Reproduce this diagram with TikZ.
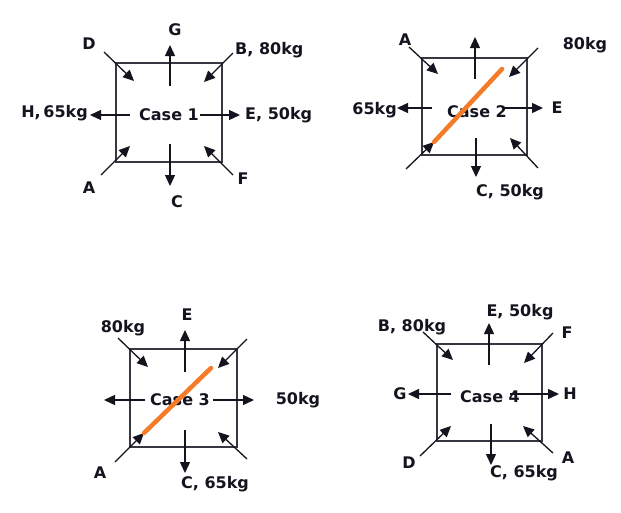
\documentclass[tikz,border=0pt]{standalone}
\usepackage{fontspec}
\setmainfont{DejaVu Sans}
\usetikzlibrary{arrows.meta}
\definecolor{ink}{HTML}{14141F}
\definecolor{strut}{HTML}{F47B27}

\begin{document}
\begin{tikzpicture}[x=1pt,y=-1pt,
    box/.style={draw=ink!85,line width=1.3pt},
    force/.style={-{Triangle[length=11pt,width=10pt]},line width=1.3pt,ink},
    tag/.style={text=ink,font=\fontsize{16}{19}\selectfont\bfseries,inner sep=0pt},
    bar/.style={strut,line width=4.5pt,line cap=round}]
    \useasboundingbox (0,0) rectangle (621,512);

    % case 1
    \begin{scope}[shift={(169,112)}]
        \coordinate (a1up) at (1,-26);   \coordinate (b1up) at (1,-67);
        \coordinate (a1nw) at (-65,-60); \coordinate (b1nw) at (-35,-31);
        \coordinate (a1ne) at (64,-59);  \coordinate (b1ne) at (35,-30);
        \coordinate (a1w) at (-39,3);    \coordinate (b1w) at (-79,3);
        \coordinate (a1e) at (31,3);     \coordinate (b1e) at (71,3);
        \coordinate (a1sw) at (-68,63);  \coordinate (b1sw) at (-39,34);
        \coordinate (a1se) at (64,63);   \coordinate (b1se) at (35,34);
        \coordinate (a1dn) at (1,32);    \coordinate (b1dn) at (1,74);
        \draw [box] (-53,-49) rectangle (53,50);
        \node [tag] (case1) at (0,3) {Case 1};
        \draw [force] (a1up) -- (b1up);
        \draw [force] (a1nw) -- (b1nw);
        \draw [force] (a1ne) -- (b1ne);
        \draw [force] (a1w) -- (b1w);
        \draw [force] (a1e) -- (b1e);
        \draw [force] (a1sw) -- (b1sw);
        \draw [force] (a1se) -- (b1se);
        \draw [force] (a1dn) -- (b1dn);
        \node [tag] (g1) at (6,-82) {G};
        \node [tag] (d1) at (-80,-68) {D};
        \node [tag,anchor=west] (b1) at (66,-62) {B, 80kg};
        \node [tag,anchor=east] (h1) at (-81,1) {H,\,65kg};
        \node [tag,anchor=west] (e1) at (76,3) {E, 50kg};
        \node [tag] (a1) at (-80,76) {A};
        \node [tag] (f1) at (74,67) {F};
        \node [tag] (c1) at (8,90) {C};
    \end{scope}

    % case 2
    \begin{scope}[shift={(475,107)}]
        \coordinate (a2up) at (0,-28);   \coordinate (b2up) at (0,-70);
        \coordinate (a2nw) at (-66,-60); \coordinate (b2nw) at (-37,-33);
        \coordinate (a2ne) at (63,-59);  \coordinate (b2ne) at (34,-30);
        \coordinate (a2w) at (-43,1);    \coordinate (b2w) at (-78,1);
        \coordinate (a2e) at (27,1);     \coordinate (b2e) at (68,1);
        \coordinate (a2sw) at (-69,62);  \coordinate (b2sw) at (-41,35);
        \coordinate (a2se) at (63,61);   \coordinate (b2se) at (35,31);
        \coordinate (a2dn) at (1,31);    \coordinate (b2dn) at (1,70);
        \draw [box] (-53,-49) rectangle (52,48);
        \node [tag] (case2) at (2,5) {Case 2};
        \draw [force] (a2up) -- (b2up);
        \draw [force] (a2nw) -- (b2nw);
        \draw [force] (a2ne) -- (b2ne);
        \draw [force] (a2w) -- (b2w);
        \draw [force] (a2e) -- (b2e);
        \draw [force] (a2sw) -- (b2sw);
        \draw [force] (a2se) -- (b2se);
        \draw [force] (a2dn) -- (b2dn);
        \draw [bar] (b2sw) -- (27,-38);
        \node [tag] (a2) at (-70,-67) {A};
        \node [tag] (w2) at (110,-62) {80kg};
        \node [tag,anchor=east] (h2) at (-78,3) {65kg};
        \node [tag] (e2) at (82,1) {E};
        \node [tag] (c2) at (35,85) {C, 50kg};
    \end{scope}

    % case 3
    \begin{scope}[shift={(183,398)}]
        \coordinate (a3up) at (2,-26);   \coordinate (b3up) at (2,-68);
        \coordinate (a3nw) at (-65,-60); \coordinate (b3nw) at (-35,-31);
        \coordinate (a3ne) at (64,-59);  \coordinate (b3ne) at (35,-30);
        \coordinate (a3w) at (-38,2);    \coordinate (b3w) at (-79,2);
        \coordinate (a3e) at (30,2);     \coordinate (b3e) at (71,2);
        \coordinate (a3sw) at (-68,64);  \coordinate (b3sw) at (-39,35);
        \coordinate (a3se) at (64,61);   \coordinate (b3se) at (35,34);
        \coordinate (a3dn) at (2,32);    \coordinate (b3dn) at (2,75);
        \draw [box] (-53,-49) rectangle (54,49);
        \node [tag] (case3) at (-3,2) {Case 3};
        \draw [force] (a3up) -- (b3up);
        \draw [force] (a3nw) -- (b3nw);
        \draw [force] (a3ne) -- (b3ne);
        \draw [force] (a3w) -- (b3w);
        \draw [force] (a3e) -- (b3e);
        \draw [force] (a3sw) -- (b3sw);
        \draw [force] (a3se) -- (b3se);
        \draw [force] (a3dn) -- (b3dn);
        \draw [bar] (b3sw) -- (28,-30);
        \node [tag] (e3) at (4,-83) {E};
        \node [tag] (w3) at (-60,-70) {80kg};
        \node [tag] (r3) at (115,2) {50kg};
        \node [tag] (a3) at (-83,75) {A};
        \node [tag] (c3) at (32,86) {C, 65kg};
    \end{scope}

    % case 4
    \begin{scope}[shift={(489,392)}]
        \coordinate (a4up) at (0,-27);   \coordinate (b4up) at (0,-69);
        \coordinate (a4nw) at (-66,-60); \coordinate (b4nw) at (-36,-32);
        \coordinate (a4ne) at (64,-59);  \coordinate (b4ne) at (35,-29);
        \coordinate (a4w) at (-38,2);    \coordinate (b4w) at (-81,2);
        \coordinate (a4e) at (21,2);     \coordinate (b4e) at (70,2);
        \coordinate (a4sw) at (-69,64);  \coordinate (b4sw) at (-38,34);
        \coordinate (a4se) at (64,61);   \coordinate (b4se) at (34,34);
        \coordinate (a4dn) at (2,32);    \coordinate (b4dn) at (2,73);
        \draw [box] (-52,-48) rectangle (53,49);
        \node [tag] (case4) at (1,5) {Case 4};
        \draw [force] (a4up) -- (b4up);
        \draw [force] (a4nw) -- (b4nw);
        \draw [force] (a4ne) -- (b4ne);
        \draw [force] (a4w) -- (b4w);
        \draw [force] (a4e) -- (b4e);
        \draw [force] (a4sw) -- (b4sw);
        \draw [force] (a4se) -- (b4se);
        \draw [force] (a4dn) -- (b4dn);
        \node [tag] (e4) at (31,-80) {E, 50kg};
        \node [tag] (b4) at (-77,-65) {B, 80kg};
        \node [tag] (f4) at (78,-59) {F};
        \node [tag] (g4) at (-89,2) {G};
        \node [tag] (h4) at (81,2) {H};
        \node [tag] (d4) at (-80,71) {D};
        \node [tag] (a4) at (79,66) {A};
        \node [tag] (c4) at (35,81) {C, 65kg};
    \end{scope}
\end{tikzpicture}
\end{document}
